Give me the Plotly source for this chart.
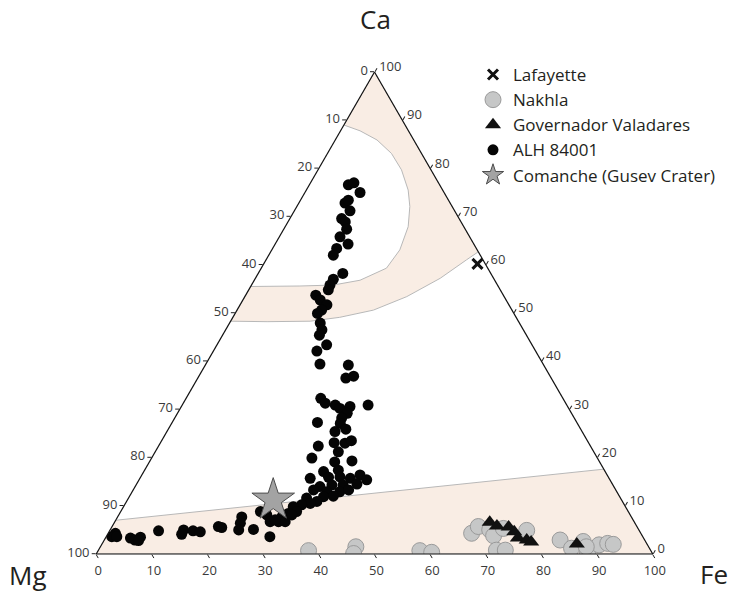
import plotly.graph_objects as go

# ---------------- data (mol %) ----------------
ticks = [0, 10, 20, 30, 40, 50, 60, 70, 80, 90, 100]
tick_labels = ["100", "90", "80", "70", "60", "50", "40", "30", "20", "10", "0"]

# ALH 84001 carbonates (Ca, Fe); Mg = remainder
alh_ca = [76.6, 77.0, 75.0, 72.8, 73.4, 71.2, 69.6, 68.9, 67.4, 65.8, 64.3, 63.4, 62.0, 58.2, 57.0, 55.8,
          54.8, 53.7, 52.7, 51.7, 50.6, 49.9, 47.9, 46.5, 45.4, 43.4, 42.1, 39.4, 39.2, 36.5, 36.9, 32.3,
          31.3, 30.9, 30.2, 30.6, 30.9, 29.2, 28.2, 27.3, 27.1, 25.4, 25.9, 23.1, 23.0, 23.5, 22.4, 21.2,
          19.9, 19.1, 19.3, 17.4, 17.1, 15.7, 15.9, 16.0, 15.7, 16.4, 15.4, 14.3, 14.3, 14.5, 14.0, 13.3,
          12.9, 12.9, 13.3, 12.0, 11.9, 11.6, 10.9, 10.5, 10.2, 9.8, 8.8, 8.4, 7.7, 8.1, 8.1, 6.7, 6.7, 6.7,
          4.3, 3.6, 3.6, 3.3, 2.9, 3.5, 2.8, 4.8, 5.0, 4.1, 4.8, 4.6, 5.7, 5.5, 7.7, 6.4, 5.0, 5.1, 8.8,
          3.6, 7.1]
alh_fe = [7.0, 7.8, 9.9, 8.3, 8.6, 10.0, 9.3, 10.3, 11.3, 10.9, 13.1, 11.5, 11.6, 15.2, 14.1, 14.1,
          14.3, 12.6, 13.9, 15.6, 15.2, 14.8, 16.3, 17.3, 17.4, 19.7, 18.6, 20.5, 25.7, 26.6, 27.8, 24.2,
          25.5, 27.5, 28.7, 30.3, 33.4, 30.5, 30.0, 26.1, 30.3, 30.2, 31.9, 31.2, 33.2, 34.1, 28.7, 32.9,
          28.8, 33.3, 36.3, 34.8, 32.3, 30.6, 33.8, 35.8, 37.8, 39.2, 40.9, 35.2, 37.2, 39.6, 33.2, 32.4,
          35.0, 37.3, 38.7, 36.6, 34.9, 32.0, 34.2, 33.2, 31.8, 30.5, 31.6, 30.3, 29.5, 31.1, 26.6, 29.4,
          30.6, 27.9,
          1.3, 1.0, 1.9, 4.5, 5.5, 6.2, 6.2, 8.8, 13.2, 13.3, 15.0, 16.4, 19.1, 19.8, 22.3, 22.7, 23.1,
          25.7, 25.1, 29.4, 28.6]

# Nakhla carbonates
nak_ca = [0.7, 1.5, 0.1, 0.7, 0.35, 4.3, 5.7, 5.0, 3.8, 0.8, 0.8, 5.3, 4.9, 2.9, 1.2, 0.15, 2.6, 1.9,
          2.2, 2.0, 1.5]
nak_fe = [37.8, 45.9, 46.2, 57.8, 60.1, 65.3, 65.8, 68.2, 69.5, 71.5, 73.1, 70.5, 74.9, 81.9, 84.8, 88.2,
          86.2, 89.4, 90.8, 91.9, 87.3]

# Governador Valadares carbonates
gv_ca = [6.6, 5.8, 5.6, 4.6, 3.3, 2.9, 2.5, 2.1]
gv_fe = [67.4, 69.1, 71.3, 72.8, 74.1, 75.9, 76.9, 85.3]

# Lafayette
laf_ca = [60.2]
laf_fe = [38.4]

# Comanche (Gusev Crater)
com_ca = [11.2]
com_fe = [26.2]

# shaded fields
band_ca = [0, 0, 17.6, 7.0, 0]
band_fe = [0, 100, 82.4, 0, 0]
cal_ca = [100, 89.0, 87.8, 85.9, 83.1, 79.7, 75.5, 72.1, 67.9, 63.1, 59.3, 56.8, 55.8, 55.6, 55.5,
          48.3, 48.2, 48.3, 49.1, 50.6, 53.4, 57.2, 61.0, 62.7, 100]
cal_fe = [0, 0, 3.5, 7.5, 11.5, 15.0, 18.3, 20.3, 22.1, 23.0, 22.5, 19.0, 14.7, 8.8, 0,
          0, 6.6, 14.3, 19.2, 24.5, 29.1, 33.2, 36.0, 37.3, 0]


def rest(ca, fe):
    return [max(0.0, round(100 - c - f, 2)) for c, f in zip(ca, fe)]


FONT = "Open Sans"
PEACH = "#f9ede4"
EDGE = "#b8b8b8"

fig = go.Figure()

for ca, fe in [(band_ca, band_fe), (cal_ca, cal_fe)]:
    fig.add_trace(go.Scatterternary(
        a=ca, b=rest(ca, fe), c=fe, mode="lines", fill="toself",
        fillcolor=PEACH, line=dict(color=EDGE, width=1),
        showlegend=False, hoverinfo="skip"))

fig.add_trace(go.Scatterternary(
    a=nak_ca, b=rest(nak_ca, nak_fe), c=nak_fe, mode="markers", name="Nakhla", legendrank=2,
    marker=dict(symbol="circle", size=16, color="#c6c7c7", line=dict(color="#9a9a9a", width=1))))

fig.add_trace(go.Scatterternary(
    a=gv_ca, b=rest(gv_ca, gv_fe), c=gv_fe, mode="markers", name="Governador Valadares", legendrank=3,
    marker=dict(symbol="triangle-up", size=14, color="#111111", line=dict(color="#111111", width=0))))

fig.add_trace(go.Scatterternary(
    a=alh_ca, b=rest(alh_ca, alh_fe), c=alh_fe, mode="markers", name="ALH 84001", legendrank=4,
    marker=dict(symbol="circle", size=11, color="#050505", line=dict(width=0))))

fig.add_trace(go.Scatterternary(
    a=laf_ca, b=rest(laf_ca, laf_fe), c=laf_fe, mode="markers", name="Lafayette", legendrank=1,
    marker=dict(symbol="x-thin", size=10, color="#111111", line=dict(color="#111111", width=3))))

fig.add_trace(go.Scatterternary(
    a=com_ca, b=rest(com_ca, com_fe), c=com_fe, mode="markers", name="Comanche (Gusev Crater)", legendrank=5,
    marker=dict(symbol="star", size=32, color="#a3a3a3", line=dict(color="#4d4d4d", width=1))))

axis = dict(
    tickmode="array", tickvals=ticks, ticktext=tick_labels,
    ticks="outside", ticklen=4, tickwidth=1, tickcolor="#222222",
    showgrid=False, showline=True, linecolor="#111111", linewidth=1.2,
    tickfont=dict(family=FONT, size=13, color="#3a3a3a"),
    title=dict(text=""), min=0,
)

# the page body adds an 8 px margin, so the figure is laid out 8 px up/left
OFF = 8
W, H = 745 - OFF, 591 - OFF


def px(x):
    return (x - OFF) / W


def py(y):
    return (H - (y - OFF)) / H


fig.update_layout(
    width=W, height=H,
    margin=dict(l=0, r=0, t=0, b=0),
    paper_bgcolor="white",
    font=dict(family=FONT, color="#231f20"),
    ternary=dict(
        sum=100,
        bgcolor="white",
        domain=dict(x=[px(96), px(653)], y=[py(554), py(72)]),
        aaxis=axis, baxis=axis, caxis=axis,
    ),
    legend=dict(
        x=px(473), y=py(57), xanchor="left", yanchor="top",
        font=dict(family=FONT, size=17, color="#231f20"),
        bgcolor="rgba(0,0,0,0)", itemclick=False,
    ),
    showlegend=True,
    annotations=[
        dict(text="Ca", x=px(375), y=py(19), xref="paper", yref="paper",
             showarrow=False, font=dict(family=FONT, size=26, color="#231f20"),
             xanchor="center", yanchor="middle"),
        dict(text="Mg", x=px(28), y=py(575), xref="paper", yref="paper",
             showarrow=False, font=dict(family=FONT, size=26, color="#231f20"),
             xanchor="center", yanchor="middle"),
        dict(text="Fe", x=px(714), y=py(574), xref="paper", yref="paper",
             showarrow=False, font=dict(family=FONT, size=26, color="#231f20"),
             xanchor="center", yanchor="middle"),
    ],
)

fig.write_html("out.html")
